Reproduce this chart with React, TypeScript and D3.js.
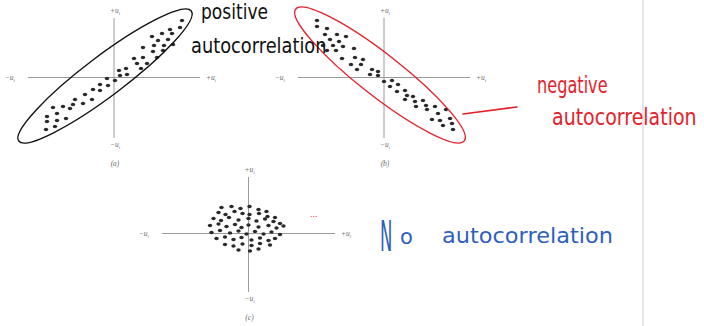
import React from "react";
import * as d3 from "d3";

// Scatter of u_i against u_{i-1}: (a) positive, (b) negative, (c) no autocorrelation
const positiveDots: [number, number][] = [
  [6.8, 5.7], [6.6, 5.0], [5.6, 4.8], [5.8, 4.4], [4.8, 4.4], [3.8, 4.1], [4.4, 3.7],
  [5.4, 3.8], [5.9, 3.3], [5.0, 3.2], [4.0, 3.2], [2.9, 3.0], [4.9, 2.7], [3.9, 2.6],
  [2.9, 2.0], [2.0, 1.9], [4.3, 2.0], [2.3, 1.4], [3.3, 1.4], [2.7, 0.9], [1.2, 0.9],
  [0.5, 0.7], [0.6, 0.2], [1.3, 0.3], [0.1, -0.3], [-0.7, -0.1], [-1.4, -0.7], [-0.6, -0.8],
  [-2.1, -1.2], [-1.4, -1.3], [-2.9, -1.7], [-2.2, -2.2], [-3.1, -2.6], [-3.9, -2.2],
  [-4.1, -2.7], [-5.1, -2.9], [-4.4, -3.1], [-6.1, -3.0], [-6.7, -3.9], [-5.7, -3.6],
  [-4.8, -4.1], [-5.7, -4.3], [-6.7, -4.4], [-5.9, -4.9], [-6.8, -5.2],
];

const negativeDots: [number, number][] = [
  [-6.7, 5.7], [-6.7, 5.1], [-5.7, 4.9], [-5.9, 4.3], [-4.7, 4.3], [-3.8, 4.1], [-5.4, 3.8],
  [-4.5, 3.6], [-6.1, 3.2], [-5.1, 3.2], [-4.1, 3.1], [-3.0, 2.9], [-4.8, 2.7], [-5.7, 2.7],
  [-4.2, 1.9], [-2.9, 2.0], [-2.1, 1.8], [-3.3, 1.3], [-2.3, 1.3], [-1.2, 0.8], [-2.7, 0.8],
  [-0.6, 0.6], [-1.4, 0.3], [-0.6, 0.2], [0.0, -0.4], [0.8, -0.3], [0.6, -0.9], [1.4, -0.7],
  [1.3, -1.4], [2.1, -1.3], [2.3, -1.8], [2.9, -1.9], [2.1, -2.2], [3.1, -2.4], [3.9, -2.3],
  [3.2, -2.9], [4.2, -2.8], [4.3, -3.2], [5.1, -2.9], [6.2, -3.2], [5.4, -3.6], [4.8, -4.2],
  [5.6, -4.3], [6.6, -4.1], [5.9, -4.8], [6.8, -4.6], [6.9, -5.2],
];

const noneDots: [number, number][] = [
  [-2.7, 2.6], [-1.7, 2.7], [-0.8, 2.5], [0.1, 2.7], [1.0, 2.4], [1.8, 2.2],
  [-3.0, 2.1], [-2.3, 1.9], [-1.4, 2.2], [-0.6, 2.0], [0.1, 1.9], [1.05, 2.0], [1.9, 1.7], [2.65, 1.6],
  [-3.5, 1.5], [-2.75, 1.3], [-1.95, 1.6], [-1.0, 1.35], [0.0, 1.5], [0.8, 1.25], [1.65, 1.45], [2.5, 1.2], [3.15, 1.0],
  [-3.85, 0.8], [-3.0, 0.95], [-2.2, 0.7], [-1.35, 0.9], [-0.7, 0.6], [0.0, 0.85], [1.0, 0.65], [2.0, 0.8], [2.8, 0.55], [3.5, 0.75],
  [-3.7, 0.1], [-2.85, 0.3], [-1.85, 0.05], [-1.0, 0.25], [-0.2, -0.05], [0.65, 0.2], [1.5, -0.05], [2.3, 0.15], [3.15, -0.1],
  [-3.2, -0.5], [-2.35, -0.35], [-1.5, -0.6], [-0.7, -0.4], [0.3, -0.65], [1.15, -0.45], [2.0, -0.7], [2.65, -0.5],
  [-2.35, -1.1], [-1.5, -1.25], [-0.6, -1.05], [0.3, -1.2], [1.15, -1.0], [2.15, -1.15],
  [-1.0, -1.65], [0.15, -1.75], [1.0, -1.55],
];

const captions = ["(a)", "(b)", "(c)"];

type PanelProps = {
  cx: number;
  cy: number;
  dots: [number, number][];
  caption: string;
  hx: number; // half-length of horizontal axis (data units)
  vTop: number;
  vBottom: number;
};

const AXIS = "#9a9a9a";
const LABEL = "#6a6a6a";

function ULabel({ x, y, sign, anchor }: { x: number; y: number; sign: string; anchor: string }) {
  return (
    <text
      x={x}
      y={y}
      textAnchor={anchor as any}
      fontFamily="'Liberation Serif', serif"
      fontStyle="italic"
      fontSize={7.5}
      fill={LABEL}
    >
      {sign}u
      <tspan fontSize={5} dy={1.6}>i</tspan>
    </text>
  );
}

function Panel({ cx, cy, dots, caption, hx, vTop, vBottom }: PanelProps) {
  const x = d3.scaleLinear().domain([-1, 1]).range([cx - 10, cx + 10]);
  const y = d3.scaleLinear().domain([-1, 1]).range([cy + 10, cy - 10]);
  return (
    <g>
      <line x1={x(-hx)} x2={x(hx)} y1={y(0)} y2={y(0)} stroke={AXIS} strokeWidth={1} />
      <line x1={x(0)} x2={x(0)} y1={y(vTop)} y2={y(vBottom)} stroke={AXIS} strokeWidth={1} />
      <ULabel x={x(0) + 1} y={y(vTop) - 5} sign="+" anchor="middle" />
      <ULabel x={x(0) + 1} y={y(vBottom) + 9} sign="−" anchor="middle" />
      <ULabel x={x(-hx) - 13} y={y(0) + 2.5} sign="−" anchor="end" />
      <ULabel x={x(hx) + 6} y={y(0) + 2.5} sign="+" anchor="start" />
      <text
        x={x(0) + 1}
        y={y(vBottom) + 28}
        textAnchor="middle"
        fontFamily="'Liberation Serif', serif"
        fontStyle="italic"
        fontSize={7.5}
        fill={LABEL}
      >
        {caption}
      </text>
      {dots.map(([u0, u1], i) => (
        <ellipse key={i} cx={x(u0)} cy={y(u1)} rx={2.2} ry={1.8} fill="#2a2a2a" />
      ))}
    </g>
  );
}

const HAND = "'DejaVu Sans', sans-serif";
const RED = "#e4222b";
const BLUE = "#2f5fbf";

export default function App() {
  return (
    <svg
      width={704}
      height={326}
      viewBox="0 0 704 326"
      style={{ position: "absolute", left: 0, top: 0, background: "#fff" }}
    >
      <rect width={704} height={326} fill="#fff" />
      <line x1={643} x2={643} y1={0} y2={326} stroke="#cfcfcf" strokeWidth={1} />

      <Panel cx={114} cy={77.5} dots={positiveDots} caption={captions[0]} hx={8.6} vTop={5.95} vBottom={-6.05} />
      <Panel cx={384} cy={77.5} dots={negativeDots} caption={captions[1]} hx={8.6} vTop={5.95} vBottom={-6.05} />
      <Panel cx={248.5} cy={233.5} dots={noneDots} caption={captions[2]} hx={8.65} vTop={5.65} vBottom={-5.85} />

      {/* hand-drawn enclosures */}
      <ellipse cx={105} cy={76} rx={108} ry={20} transform="rotate(-37 105 76)" fill="none" stroke="#111" strokeWidth={1.4} />
      <ellipse cx={380} cy={75} rx={107} ry={21} transform="rotate(38 380 75)" fill="none" stroke={RED} strokeWidth={1.4} />
      <line x1={463} y1={114} x2={517} y2={107} stroke={RED} strokeWidth={1.6} strokeLinecap="round" />

      {/* annotations */}
      <text transform="translate(201,18.5) scale(0.9,1.1)" fontFamily={HAND} fontSize={19} fill="#111">
        positive
      </text>
      <text transform="translate(191,52.5) scale(1,1.15)" fontFamily={HAND} fontSize={17.8} fill="#111">
        autocorrelation
      </text>

      <text transform="translate(537,93) scale(0.85,1.2)" fontFamily={HAND} fontSize={19} fill={RED}>
        negative
      </text>
      <text transform="translate(552,125) scale(1,1.2)" fontFamily={HAND} fontSize={19} fill={RED}>
        autocorrelation
      </text>
      <text x={310} y={217} fontFamily={HAND} fontSize={8} fill={RED}>
        ...
      </text>

      <text transform="translate(380,251) scale(0.75,1.9)" fontFamily={HAND} fontSize={22} fill={BLUE}>
        N
      </text>
      <text x={400} y={244} fontFamily={HAND} fontSize={21} fill={BLUE}>
        o
      </text>
      <text x={442} y={243} fontFamily={HAND} fontSize={22} fill={BLUE} textLength={171} lengthAdjust="spacingAndGlyphs">
        autocorrelation
      </text>
    </svg>
  );
}
